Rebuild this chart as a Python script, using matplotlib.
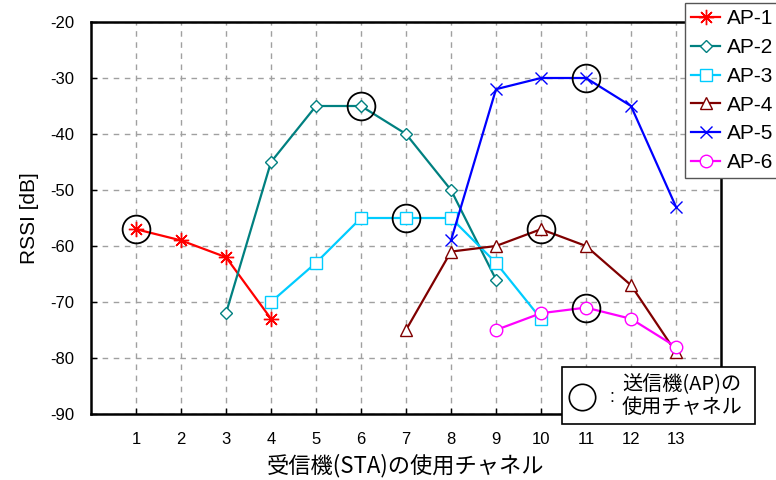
import numpy as np
import matplotlib
matplotlib.use("Agg")
import matplotlib.pyplot as plt
from matplotlib.lines import Line2D

plt.rcParams['font.family'] = ['Liberation Sans', 'Noto Sans CJK JP', 'DejaVu Sans']
plt.rcParams['axes.unicode_minus'] = False

# data
ap1_ch = [1, 2, 3, 4]
ap1_rssi = [-57, -59, -62, -73]
ap2_ch = [3, 4, 5, 6, 7, 8, 9]
ap2_rssi = [-72, -45, -35, -35, -40, -50, -66]
ap3_ch = [4, 5, 6, 7, 8, 9, 10]
ap3_rssi = [-70, -63, -55, -55, -55, -63, -73]
ap4_ch = [7, 8, 9, 10, 11, 12, 13]
ap4_rssi = [-75, -61, -60, -57, -60, -67, -79]
ap5_ch = [8, 9, 10, 11, 12, 13]
ap5_rssi = [-59, -32, -30, -30, -35, -53]
ap6_ch = [9, 10, 11, 12, 13]
ap6_rssi = [-75, -72, -71, -73, -78]

# channel used by each transmitter (circled points)
used_ch = [1, 6, 7, 10, 11, 11]
used_rssi = [-57, -35, -55, -57, -30, -71]

labels = ['AP-1', 'AP-2', 'AP-3', 'AP-4', 'AP-5', 'AP-6']
xticks = list(range(1, 14))
yticks = list(range(-90, -19, 10))

W, H = 776, 480
fig = plt.figure(figsize=(W / 100, H / 100), dpi=100)
ax = fig.add_axes([91 / W, 1 - 414 / H, (721 - 91) / W, (414 - 22) / H])

series = [
    (ap1_ch, ap1_rssi, '#ff0000', (8, 2, 0), 'none'),
    (ap2_ch, ap2_rssi, '#008080', 'D', 'white'),
    (ap3_ch, ap3_rssi, '#00ccff', 's', 'white'),
    (ap4_ch, ap4_rssi, '#800000', '^', 'white'),
    (ap5_ch, ap5_rssi, '#0000ff', 'x', 'none'),
    (ap6_ch, ap6_rssi, '#ff00ff', 'o', 'white'),
]
sizes = [11, 6, 9, 9, 9, 9]

handles = []
for (x, y, c, m, fc), lab, ms in zip(series, labels, sizes):
    h, = ax.plot(x, y, color=c, lw=1.6, marker=m, ms=ms, mfc=fc, mec=c,
                 mew=1.0, label=lab, zorder=3)
    handles.append(h)

ax.plot(used_ch, used_rssi, ls='none', marker='o', ms=20, mfc='none',
        mec='black', mew=1.3, zorder=4)

ax.set_xlim(0, 14)
ax.set_ylim(-90, -20)
ax.set_xticks(xticks)
ax.set_yticks(yticks)
ax.tick_params(direction='in', length=4, width=1, labelsize=12)
ax.tick_params(axis='x', pad=13)
ax.tick_params(axis='y', pad=12)
ax.grid(True, color='#a0a0a0', ls=(0, (4, 4)), lw=1)
for s in ax.spines.values():
    s.set_linewidth(1.8)
    s.set_zorder(5)

ax.set_xlabel('受信機(STA)の使用チャネル', fontsize=16,
              family=['Noto Sans CJK JP'], labelpad=5)
ax.set_ylabel('RSSI [dB]', fontsize=15, labelpad=8)

leg = fig.legend(handles=handles, loc='upper left',
                 bbox_to_anchor=(685 / W, 1 - 3 / H), fontsize=15,
                 handlelength=1.4, handletextpad=0.3, labelspacing=0.47,
                 borderpad=0.3, borderaxespad=0, fancybox=False,
                 framealpha=1, edgecolor='#555555')
leg.get_frame().set_linewidth(1.0)
leg.set_zorder(10)

# note box: circle = transmitter channel
fig.patches.append(plt.Rectangle((562 / W, 1 - 424 / H), (755 - 562) / W,
                                 (424 - 367) / H, transform=fig.transFigure,
                                 facecolor='white', edgecolor='black', lw=1.2,
                                 zorder=10))
fig.lines.append(Line2D([582 / W], [1 - 397 / H], marker='o', ms=19,
                        mfc='none', mec='black', mew=1.2,
                        transform=fig.transFigure, zorder=11))
fig.text(612 / W, 1 - 398 / H, ':', fontsize=13,
         ha='center', va='center', zorder=11)
fig.text(622 / W, 1 - 396 / H, '送信機(AP)の\n使用チャネル', fontsize=14.5,
         family=['Noto Sans CJK JP'], ha='left', va='center',
         linespacing=1.15, zorder=11)

fig.savefig('out.png', dpi=100)
